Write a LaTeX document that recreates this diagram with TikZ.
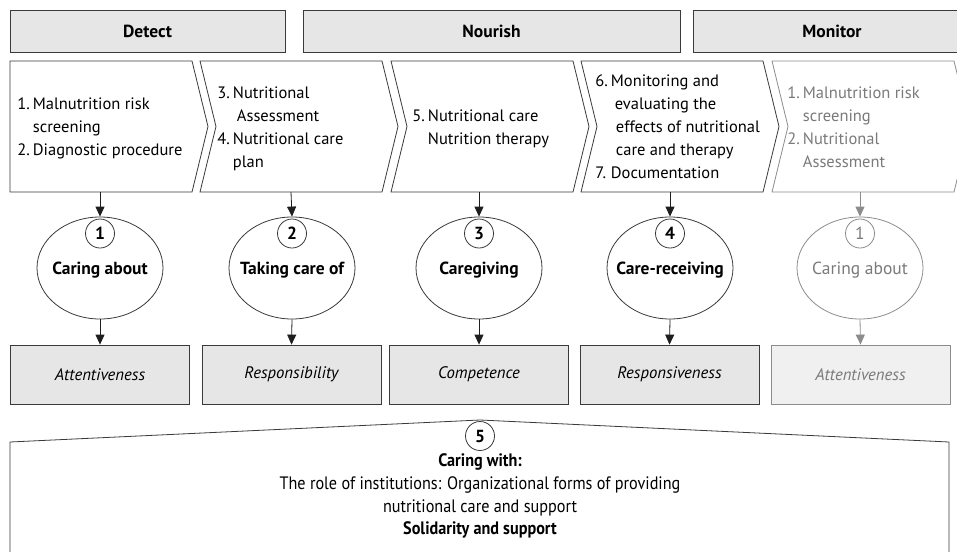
\documentclass[tikz,border=0pt]{standalone}
\usepackage{fontspec}
\setmainfont{PT Sans}
\newfontfamily\condfont[FakeStretch=0.9]{PT Sans}
\usetikzlibrary{arrows.meta,shapes.geometric}
\definecolor{linec}{HTML}{3A3A3A}
\definecolor{arrc}{HTML}{1E1E1E}
\definecolor{boxfill}{HTML}{E6E6E6}
\definecolor{lightfill}{HTML}{F0F0F0}
\definecolor{greyline}{HTML}{8C8C8C}
\definecolor{greytext}{HTML}{7A7A7A}
\begin{document}
\begin{tikzpicture}[x=1pt,y=-1pt, line width=0.8pt,
  hdr/.style={draw=linec, fill=boxfill, minimum height=42pt, inner sep=0pt,
    font=\fontsize{17.5}{20}\selectfont\bfseries},
  chev/.style={draw=linec, fill=white},
  chevtext/.style={anchor=west, inner sep=0pt, align=left,
    font=\fontsize{16.5}{23}\selectfont},
  careell/.style={draw=linec, ellipse, minimum width=126pt, minimum height=102pt, inner sep=0pt},
  numcirc/.style={draw=linec, fill=white, circle, minimum size=29pt, inner sep=0pt,
    font=\fontsize{17.5}{20}\selectfont\bfseries},
  elltext/.style={inner sep=0pt, font=\fontsize{17.5}{20}\selectfont\bfseries},
  valbox/.style={draw=linec, fill=boxfill, minimum width=179pt, minimum height=59pt, inner sep=0pt,
    font=\fontsize{16.7}{20}\selectfont\itshape},
  arr/.style={draw=arrc, -{Triangle[length=10pt,width=9pt]}},
  greyed/.style={draw=greyline, text=greytext},
  bottext/.style={inner sep=0pt, font=\condfont\fontsize{18}{20}\selectfont}
]
\clip (0,0) rectangle (957,551);
\fill[white] (0,0) rectangle (957,551);

% headers
\node[hdr, minimum width=275pt] (hd) at (147.5,31) {Detect};
\node[hdr, minimum width=377pt] (hn) at (491.5,31) {Nourish};
\node[hdr, minimum width=278pt] (hm) at (832,31) {Monitor};

% chevrons
\draw[chev] (10,61) -- (192,61) -- (208,126.5) -- (192,192) -- (10,192) -- cycle;
\draw[chev] (200,61) -- (382,61) -- (398,126.5) -- (382,192) -- (200,192) -- (216,126.5) -- cycle;
\draw[chev] (391,61) -- (573,61) -- (589,126.5) -- (573,192) -- (391,192) -- (407,126.5) -- cycle;
\draw[chev] (581,61) -- (763,61) -- (779,126.5) -- (763,192) -- (581,192) -- (597,126.5) -- cycle;
\draw[chev, draw=greyline] (772,61) -- (954,61) -- (970,126.5) -- (954,192) -- (772,192) -- (788,126.5) -- cycle;

\node[chevtext] (t1) at (17,127.5) {\begin{tabular}{@{}l@{\hspace{3pt}}l@{}}
1. & Malnutrition risk\\ & screening\\ 2. & Diagnostic procedure\end{tabular}};
\node[chevtext] (t2) at (217,128) {\begin{tabular}{@{}l@{\hspace{3pt}}l@{}}
3. & Nutritional\\ & \hspace{4pt}Assessment\\ 4. & Nutritional care\\ & plan\end{tabular}};
\node[chevtext] (t3) at (412,128) {\begin{tabular}{@{}l@{\hspace{3pt}}l@{}}
5. & Nutritional care\\ & Nutrition therapy\end{tabular}};
\node[chevtext] (t4) at (595,127.5) {\begin{tabular}{@{}l@{\hspace{3pt}}l@{}}
6. & Monitoring and\\ & \hspace{4pt}evaluating the\\ & \hspace{5pt}effects of nutritional\\ & \hspace{5pt}care and therapy\\ 7. & Documentation\end{tabular}};
\node[chevtext, text=greytext] (t5) at (787,128) {\begin{tabular}{@{}l@{\hspace{3pt}}l@{}}
1. & Malnutrition risk\\ & screening\\ 2. & Nutritional\\ & Assessment\end{tabular}};

% chevron bottoms
\coordinate (c1) at (100,192);
\coordinate (c2) at (291,192);
\coordinate (c3) at (479,192);
\coordinate (c4) at (670,192);
\coordinate (c5) at (860,192);

% ellipses
\node[careell] (e1) at (100,268) {};
\node[careell] (e2) at (292,268) {};
\node[careell] (e3) at (479,268) {};
\node[careell] (e4) at (670,268) {};
\node[careell, draw=greyline] (e5) at (860,268) {};

\node[numcirc] (n1) at (100,233.5) {1};
\node[numcirc] (n2) at (292,233.5) {2};
\node[numcirc] (n3) at (479,233.5) {3};
\node[numcirc] (n4) at (670,233.5) {4};
\node[numcirc, greyed, font=\fontsize{17.5}{20}\selectfont] (n5) at (860,233.5) {1};

\node[elltext] (l1) at (100,270) {Caring about};
\node[elltext] (l2) at (292,270) {Taking care of};
\node[elltext] (l3) at (479,270) {Caregiving};
\node[elltext] (l4) at (670,270) {Care-receiving};
\node[elltext, font=\fontsize{17.5}{20}\selectfont, text=greytext] (l5) at (860,270) {Caring about};

% value boxes
\node[valbox] (b1) at (100,374.5) {Attentiveness};
\node[valbox] (b2) at (291.5,374.5) {Responsibility};
\node[valbox] (b3) at (479,374.5) {Competence};
\node[valbox] (b4) at (669.5,374.5) {Responsiveness};
\node[valbox, fill=lightfill, greyed] (b5) at (860.5,374.5) {Attentiveness};

% arrows
\draw[arr] (c1) -- (e1.north);
\draw[arr] (c2) -- (e2.north);
\draw[arr] (c3) -- (e3.north);
\draw[arr] (c4) -- (e4.north);
\draw[arr, draw=greyline] (c5) -- (e5.north);
\draw[arr] (e1.south) -- (b1.north);
\draw[arr] (e2.south) -- (b2.north);
\draw[arr] (e3.south) -- (b3.north);
\draw[arr] (e4.south) -- (b4.north);
\draw[arr, draw=greyline] (e5.south) -- (b5.north);

% bottom house
\draw[draw=linec, fill=white] (10,570) -- (10,442) -- (480,420) -- (949,442) -- (949,570) -- cycle;
\node[numcirc] (n6) at (480,436) {5};
\node[bottext, font=\condfont\fontsize{18}{20}\selectfont\bfseries] (w1) at (480,462) {Caring with:};
\node[bottext] (w2) at (480,484.5) {The role of institutions: Organizational forms of providing};
\node[bottext] (w3) at (480,507.5) {nutritional care and support};
\node[bottext, font=\condfont\fontsize{18}{20}\selectfont\bfseries] (w4) at (480,530) {Solidarity and support};
\end{tikzpicture}
\end{document}
